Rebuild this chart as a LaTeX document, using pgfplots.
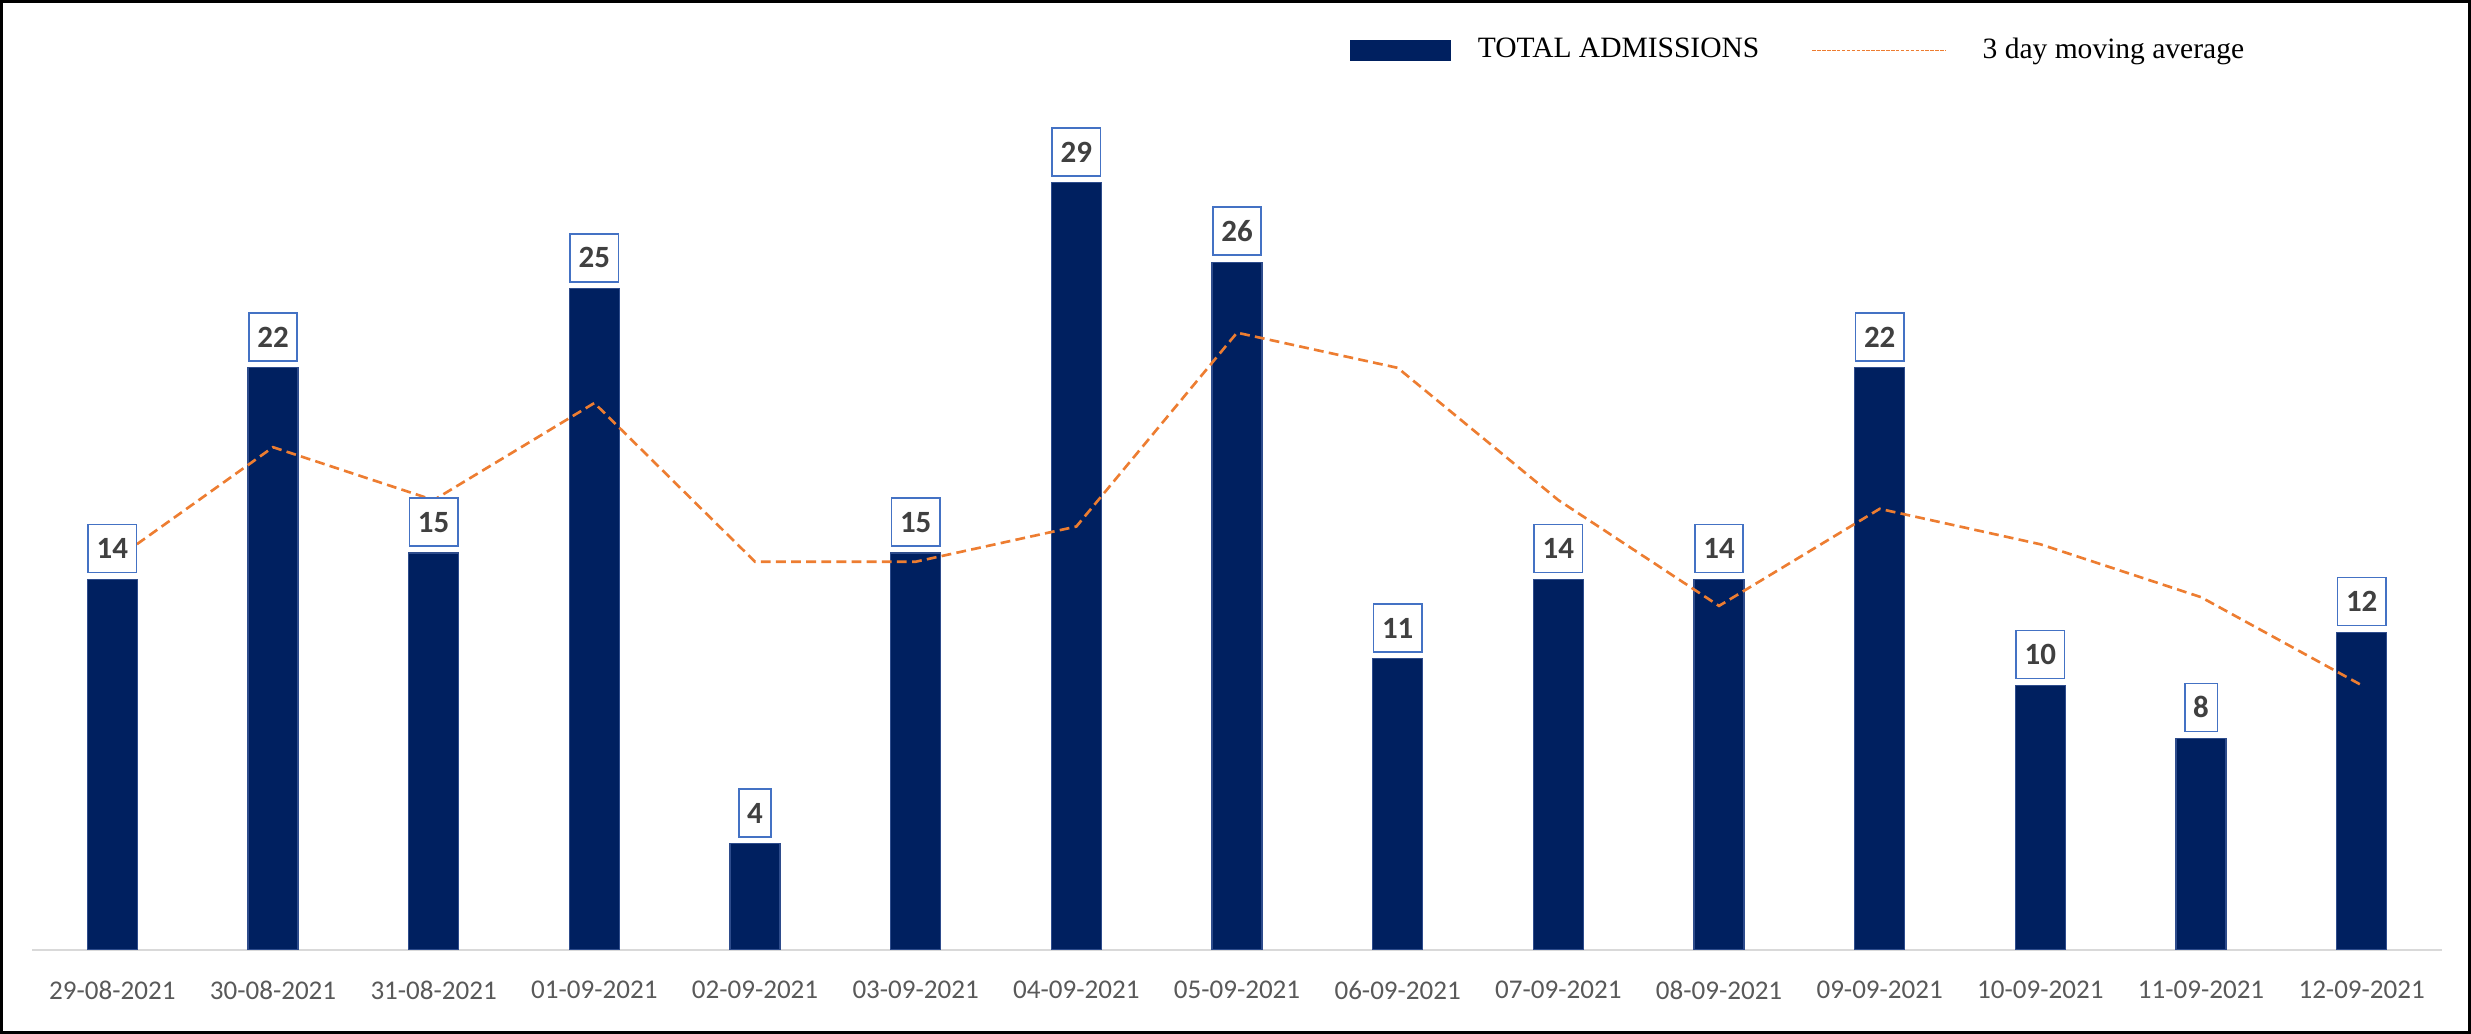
\documentclass[border=0pt]{standalone}
\usepackage{pgfplots}
\pgfplotsset{compat=1.18}
\usepackage{fontspec}
\setmainfont{Liberation Serif}
\newfontfamily\carlito{Carlito}

\definecolor{barblue}{HTML}{002060}
\definecolor{baredge}{HTML}{2E4C8C}
\definecolor{maorange}{HTML}{ED7D31}
\definecolor{lblblue}{HTML}{4472C4}
\definecolor{lbltext}{HTML}{404040}
\definecolor{ticktext}{HTML}{595959}
\definecolor{axisgray}{HTML}{D9D9D9}

\begin{document}
\begin{tikzpicture}

\begin{axis}[
    at={(0,0)}, anchor=south west,
    scale only axis,
    width=24.10cm,
    height=9.2575cm,
    xmin=-0.5, xmax=14.5,
    ymin=0, ymax=35,
    axis x line=bottom,
    axis y line=none,
    x axis line style={-, draw=axisgray, line width=0.5pt},
    major tick length=0pt,
    xtick=data,
    xticklabels={29-08-2021,30-08-2021,31-08-2021,01-09-2021,02-09-2021,03-09-2021,04-09-2021,05-09-2021,06-09-2021,07-09-2021,08-09-2021,09-09-2021,10-09-2021,11-09-2021,12-09-2021},
    xticklabel style={font=\carlito\fontsize{7.7}{9}\selectfont, text=ticktext, yshift=-0.19cm},
    clip=false,
    legend style={at={(axis cs:7.697,34.0)}, anchor=west, draw=none, fill=none,
        inner sep=0pt, legend columns=2,
        font=\fontsize{8.4}{10}\selectfont,
        nodes={inner xsep=0pt},
        /tikz/every odd column/.append style={column sep=0.27cm},
        /tikz/every even column/.append style={column sep=0.52cm}},
]

\addplot[ybar, bar width=0.5cm, fill=barblue, draw=baredge, line width=0.3pt,
    legend image code/.code={\fill[barblue] (0cm,-0.1cm) rectangle (1.0cm,0.1cm);},
    nodes near coords,
    every node near coord/.append style={font=\carlito\bfseries\fontsize{8.8}{10}\selectfont,
        /pgf/number format/assume math mode=true,
        text=lbltext, fill=white, draw=lblblue, line width=0.45pt,
        inner xsep=2.4pt, minimum height=0.48cm, anchor=south, yshift=0.06cm}]
coordinates {
    (0,14) (1,22) (2,15) (3,25) (4,4) (5,15) (6,29) (7,26)
    (8,11) (9,14) (10,14) (11,22) (12,10) (13,8) (14,12)
};
\addlegendentry{TOTAL ADMISSIONS}

\addplot[sharp plot, no marks, draw=maorange, line width=0.75pt,
    dash pattern=on 2.8pt off 1.5pt,
    legend image code/.code={\draw[maorange, line width=0.5pt, dash pattern=on 1pt off 0.4pt] (0cm,0cm) -- (1.34cm,0cm); \path (1.42cm,0cm);}]
coordinates {
    (0,14.67) (1,19) (2,17) (3,20.67) (4,14.67) (5,14.67) (6,16) (7,23.33)
    (8,22) (9,17) (10,13) (11,16.67) (12,15.33) (13,13.33) (14,10)
};
\addlegendentry{3 day moving average}

\end{axis}

\draw[line width=0.03cm] (-0.305cm,-0.825cm) rectangle (24.375cm,9.4825cm);

\end{tikzpicture}
\end{document}
